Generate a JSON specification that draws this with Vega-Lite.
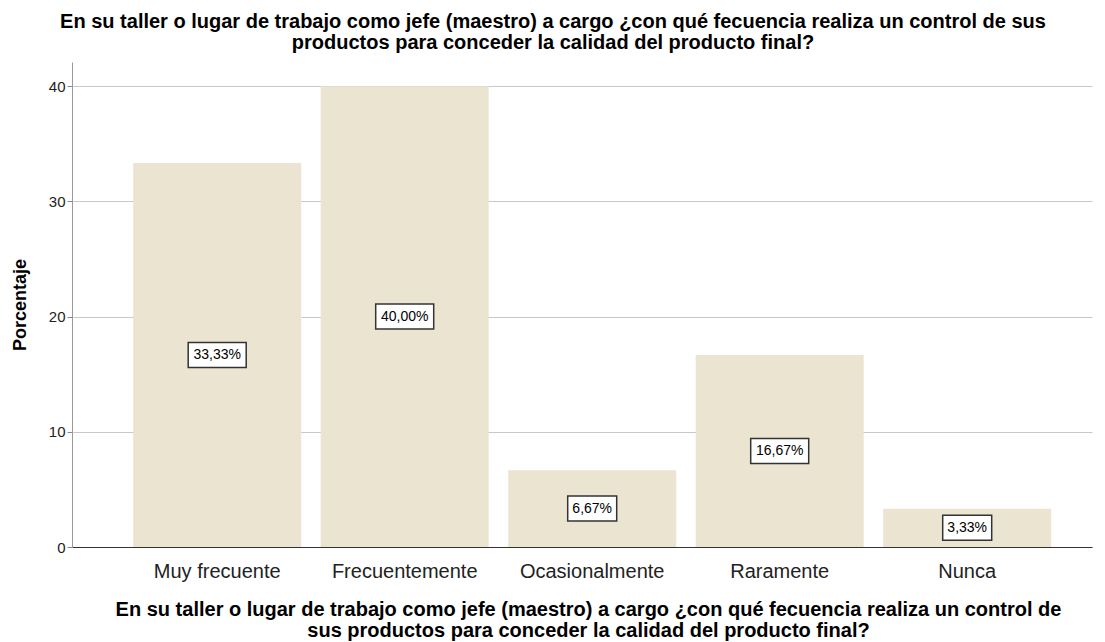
{
  "$schema": "https://vega.github.io/schema/vega-lite/v6.json",
  "width": 1020,
  "height": 485,
  "autosize": {"type": "none"},
  "padding": {"left": 72, "top": 62, "right": 13, "bottom": 95},
  "background": "white",
  "title": {
    "text": ["En su taller o lugar de trabajo como jefe (maestro) a cargo ¿con qué fecuencia realiza un control de sus", "productos para conceder la calidad del producto final?"],
    "font": "Liberation Sans",
    "fontSize": 20,
    "fontWeight": "bold",
    "color": "black",
    "anchor": "middle",
    "dx": -29,
    "offset": 9,
    "lineHeight": 21
  },
  "config": {
    "view": {"stroke": null},
    "font": "Liberation Sans"
  },
  "data": {
    "values": [
      {"cat": "Muy frecuente", "pct": 33.33, "label": "33,33%"},
      {"cat": "Frecuentemente", "pct": 40.0, "label": "40,00%"},
      {"cat": "Ocasionalmente", "pct": 6.67, "label": "6,67%"},
      {"cat": "Raramente", "pct": 16.67, "label": "16,67%"},
      {"cat": "Nunca", "pct": 3.33, "label": "3,33%"}
    ]
  },
  "encoding": {
    "x": {
      "field": "cat",
      "type": "nominal",
      "sort": null,
      "scale": {"paddingInner": 0.104, "paddingOuter": 0.272, "align": 0.6},
      "axis": {
        "title": ["En su taller o lugar de trabajo como jefe (maestro) a cargo ¿con qué fecuencia realiza un control de", "sus productos para conceder la calidad del producto final?"],
        "titleFont": "Liberation Sans",
        "titleFontSize": 20,
        "titleFontWeight": "bold",
        "titleColor": "black",
        "titleLineHeight": 21,
        "titlePadding": 18,
        "titleX": 516,
        "labelAngle": 0,
        "labelFontSize": 20,
        "labelColor": "#222",
        "labelPadding": 14,
        "ticks": false,
        "domainColor": "#333",
        "domainWidth": 1,
        "grid": false
      }
    }
  },
  "layer": [
    {
      "mark": {"type": "bar", "color": "#EAE4D0"},
      "encoding": {
        "y": {
          "field": "pct",
          "type": "quantitative",
          "scale": {"domain": [0, 42.1], "nice": false},
          "axis": {
            "values": [0, 10, 20, 30, 40],
            "title": "Porcentaje",
            "titleFontSize": 18,
            "titleFontWeight": "bold",
            "titleColor": "black",
            "titlePadding": 19,
            "labelFontSize": 15,
            "labelColor": "#222",
            "labelPadding": 2,
            "tickSize": 5,
            "tickColor": "#888",
            "domainColor": "#999",
            "grid": true,
            "gridColor": "#C8C8C8",
            "gridWidth": 1
          }
        }
      }
    },
    {
      "transform": [{"filter": "length(datum.label) == 6"}],
      "mark": {"type": "point", "shape": "M-29,-12.5H29V12.5H-29Z", "size": 4, "filled": true, "fill": "white", "stroke": "#333", "strokeWidth": 1.5, "opacity": 1},
      "encoding": {
        "y": {"field": "pct", "type": "quantitative", "scale": {"domain": [0, 84.2], "nice": false}, "axis": null}
      }
    },
    {
      "transform": [{"filter": "length(datum.label) == 5"}],
      "mark": {"type": "point", "shape": "M-24.5,-12.5H24.5V12.5H-24.5Z", "size": 4, "filled": true, "fill": "white", "stroke": "#333", "strokeWidth": 1.5, "opacity": 1},
      "encoding": {
        "y": {"field": "pct", "type": "quantitative", "scale": {"domain": [0, 84.2], "nice": false}, "axis": null}
      }
    },
    {
      "mark": {"type": "text", "font": "Liberation Sans", "fontSize": 14, "color": "black", "align": "center", "baseline": "middle"},
      "encoding": {
        "y": {"field": "pct", "type": "quantitative", "scale": {"domain": [0, 84.2], "nice": false}, "axis": null},
        "text": {"field": "label", "type": "nominal"}
      }
    }
  ],
  "resolve": {"scale": {"y": "independent"}}
}
